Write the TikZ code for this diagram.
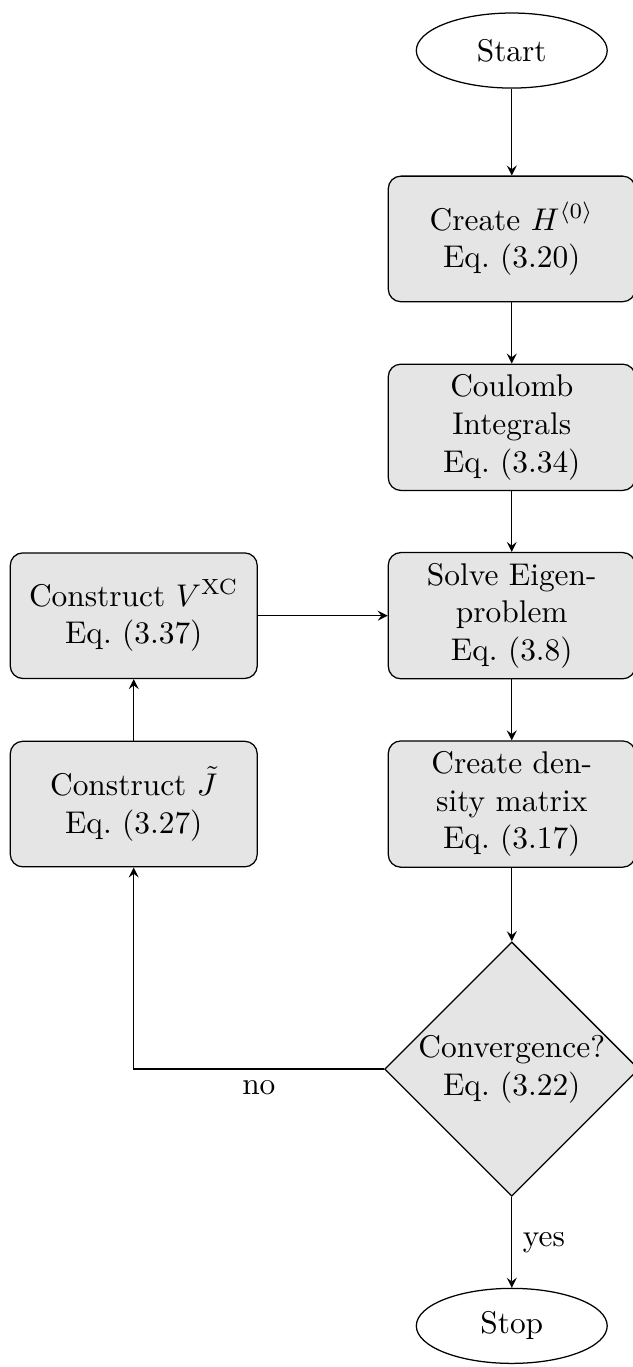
\documentclass[tikz,border=0pt]{standalone}
\usepackage{amsmath}
\usepackage{tikz}
\usetikzlibrary{shapes.geometric, positioning}

\begin{document}
\begin{tikzpicture}[
    on grid,
    block/.style={rectangle, draw, fill=gray!20, text width=7.2em, align=center,
                  rounded corners, minimum height=4em},
    decision/.style={diamond, draw, fill=gray!20, align=center, inner sep=0pt},
    terminal/.style={ellipse, draw, minimum width=60.8pt, minimum height=23.9pt},
    arrowline/.style={draw, -stealth}]
    \useasboundingbox (-163pt,16.1pt) rectangle (38.6pt,-419.3pt);
    \node[terminal] (start) {Start};
    \node[block, below=60pt of start] (hzero) {Create \(H^{\langle 0\rangle}\)\\ Eq.~(3.20)};
    \node[block, below=60pt of hzero] (coulomb) {Coulomb Integrals\\ Eq.~(3.34)};
    \node[block, below=60pt of coulomb] (solve) {Solve Eigenproblem\\ Eq.~(3.8)};
    \node[block, below=60pt of solve] (density) {Create density matrix\\ Eq.~(3.17)};
    \node[decision, below=84.4pt of density] (conv) {Convergence?\\ Eq.~(3.22)};
    \node[terminal, below=81.8pt of conv] (stop) {Stop};
    \node[block, left=120.4pt of solve] (vxc) {Construct \(V^{\mathrm{XC}}\)\\ Eq.~(3.37)};
    \node[block, below=60pt of vxc] (jtilde) {Construct \(\tilde{J}\)\\ Eq.~(3.27)};
    \draw[arrowline] (start) -- (hzero);
    \draw[arrowline] (hzero) -- (coulomb);
    \draw[arrowline] (coulomb) -- (solve);
    \draw[arrowline] (solve) -- (density);
    \draw[arrowline] (density) -- (conv);
    \draw[arrowline] (conv) -- node[right] {yes} (stop);
    \draw[arrowline] (conv) -| node[pos=0.25, below] {no} (jtilde);
    \draw[arrowline] (jtilde) -- (vxc);
    \draw[arrowline] (vxc) -- (solve);
\end{tikzpicture}
\end{document}
